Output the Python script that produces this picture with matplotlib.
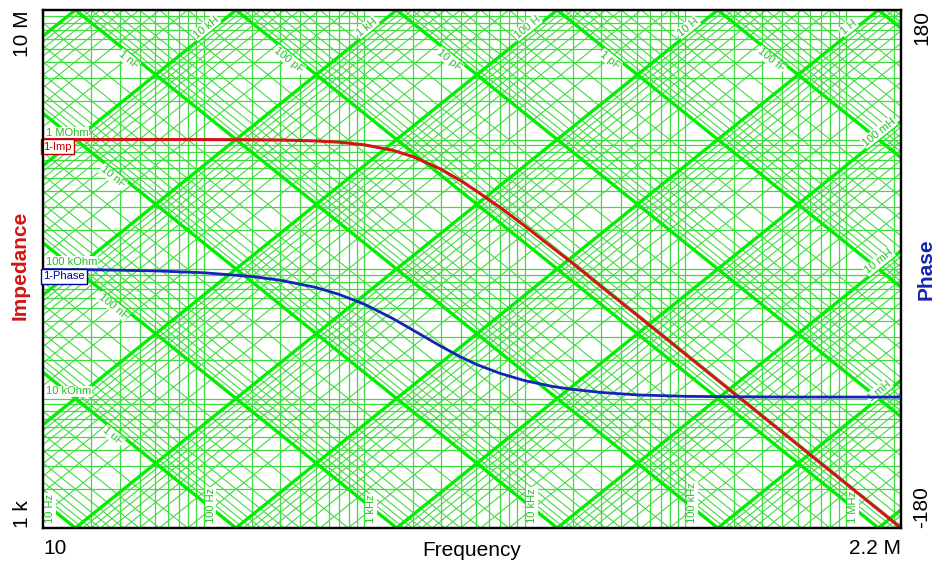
import math
import matplotlib
matplotlib.use('Agg')
import matplotlib.pyplot as plt

plt.rcParams['font.family'] = ['Liberation Sans', 'DejaVu Sans']

freq_hz = [10, 20, 50, 100, 200, 300, 500, 700, 1000, 1500, 2000, 3000, 4000,
           5000, 7000, 10000, 15000, 20000, 30000, 50000, 100000, 200000,
           500000, 1000000, 2200000]
impedance_ohm = [1.0e6, 1.0e6, 1.0e6, 0.999e6, 0.996e6, 0.991e6, 0.975e6,
                 0.953e6, 0.91e6, 0.826e6, 0.74e6, 0.59e6, 0.48e6, 0.40e6,
                 0.30e6, 0.215e6, 0.145e6, 0.11e6, 0.073e6, 44e3, 22e3, 11e3,
                 4.4e3, 2.2e3, 1.0e3]
phase_deg = [-0.3, -0.5, -1.3, -2.6, -5.2, -7.8, -12.8, -17.7, -24.4, -34.3,
             -42.3, -53.7, -61.2, -66.3, -72.5, -77.6, -81.7, -83.7, -85.8,
             -87.5, -88.5, -88.8, -89.0, -89.0, -89.0]

# axis ranges and end labels
freq_range = [10, 2.2e6]
freq_labels = ['10', '2.2 M']
imp_range = [1e3, 1e7]
imp_labels = ['1 k', '10 M']
phase_range = [-180, 180]
phase_labels = ['-180', '180']

# reactance chart grid
grid_decades_f = [1, 10, 100, 1e3, 1e4, 1e5, 1e6]
grid_decades_z = [1e3, 1e4, 1e5, 1e6]
inductor_decades = [1e-5, 1e-4, 1e-3, 1e-2, 1e-1, 1, 10, 100, 1e3, 1e4, 1e5, 1e6]
capacitor_decades = [1e-16, 1e-15, 1e-14, 1e-13, 1e-12, 1e-11, 1e-10, 1e-9,
                     1e-8, 1e-7, 1e-6, 1e-5, 1e-4]
multiples = [1, 2, 3, 4, 5, 6, 7, 8, 9]

# labels written inside the chart
freq_marks = [10, 100, 1e3, 1e4, 1e5, 1e6]
freq_mark_text = ['10 Hz', '100 Hz', '1 kHz', '10 kHz', '100 kHz', '1 MHz']
ohm_marks = [1e6, 1e5, 1e4]
ohm_mark_text = ['1 MOhm', '100 kOhm', '10 kOhm']
l_top = [1e4, 1e3, 100, 10, 1]
l_top_text = ['10 kH', '1 kH', '100 H', '10 H', '1 H']
l_right = [0.1, 0.01, 1e-3]
l_right_text = ['100 mH', '10 mH', '1 mH']
c_top = [1e-9, 1e-10, 1e-11, 1e-12, 1e-13]
c_top_text = ['1 nF', '100 pF', '10 pF', '1 pF', '100 fF']
c_left = [1e-8, 1e-7, 1e-6]
c_left_text = ['10 nF', '100 nF', '1 uF']

thin_green = '#3fdc3f'
thick_green = '#00ee00'
red = '#d41414'
blue = '#1424b4'

W, H = 938, 563
left, right, top, bottom = 43, 901, 10, 528

fig = plt.figure(figsize=(W / 100, H / 100), dpi=100)
ax = fig.add_axes([left / W, (H - bottom) / H, (right - left) / W, (bottom - top) / H])
ax.set_xscale('log')
ax.set_yscale('log')
ax.set_xlim(freq_range)
ax.set_ylim(imp_range)

# pixels per decade, used to place the grid labels
ppd_x = (right - left) / math.log10(freq_range[1] / freq_range[0])
ppd_y = (bottom - top) / math.log10(imp_range[1] / imp_range[0])
angle = math.degrees(math.atan(ppd_y / ppd_x))


def shift(f, px):
    return f * 10 ** (px / ppd_x)


# vertical and horizontal grid
for d in grid_decades_f:
    for m in multiples:
        f = d * m
        if freq_range[0] < f < freq_range[1]:
            ax.axvline(f, color=thin_green, lw=0.9, zorder=1)
for d in grid_decades_z:
    for m in multiples:
        z = d * m
        if imp_range[0] < z < imp_range[1]:
            ax.axhline(z, color=thin_green, lw=0.9, zorder=1)

# inductive and capacitive reactance lines
fx = [freq_range[0], freq_range[1]]
for d in inductor_decades:
    for m in multiples:
        L = d * m
        zl = [2 * math.pi * f * L for f in fx]
        if m == 1:
            ax.plot(fx, zl, color=thick_green, lw=2.4, zorder=2)
        else:
            ax.plot(fx, zl, color=thin_green, lw=0.8, zorder=1)
for d in capacitor_decades:
    for m in multiples:
        C = d * m
        zc = [1 / (2 * math.pi * f * C) for f in fx]
        if m == 1:
            ax.plot(fx, zc, color=thick_green, lw=2.4, zorder=2)
        else:
            ax.plot(fx, zc, color=thin_green, lw=0.8, zorder=1)

box = dict(facecolor='white', edgecolor='none', pad=0.6)
small = dict(fontsize=8, color='#22c022', zorder=3, bbox=box)

for f, t in zip(freq_marks, freq_mark_text):
    ax.annotate(t, (f, imp_range[0]), xytext=(2, 5), textcoords='offset pixels',
                rotation=90, ha='left', va='bottom', **small)
for z, t in zip(ohm_marks, ohm_mark_text):
    ax.annotate(t, (freq_range[0], z), xytext=(3, 2), textcoords='offset pixels',
                ha='left', va='bottom', **small)

for L, t in zip(l_top, l_top_text):
    f = shift(imp_range[1] / (2 * math.pi * L), -30)
    ax.annotate(t, (f, 2 * math.pi * f * L), xytext=(0, 7), textcoords='offset pixels',
                rotation=angle, rotation_mode='anchor', ha='center', va='center', **small)
for L, t in zip(l_right, l_right_text):
    f = shift(freq_range[1], -22)
    ax.annotate(t, (f, 2 * math.pi * f * L), xytext=(0, 7), textcoords='offset pixels',
                rotation=angle, rotation_mode='anchor', ha='center', va='center', **small)
for C, t in zip(c_top, c_top_text):
    f = shift(1 / (2 * math.pi * C * imp_range[1]), 53)
    ax.annotate(t, (f, 1 / (2 * math.pi * f * C)), xytext=(0, -7), textcoords='offset pixels',
                rotation=-angle, rotation_mode='anchor', ha='center', va='center', **small)
for C, t in zip(c_left, c_left_text):
    f = shift(freq_range[0], 70)
    ax.annotate(t, (f, 1 / (2 * math.pi * f * C)), xytext=(0, -7), textcoords='offset pixels',
                rotation=-angle, rotation_mode='anchor', ha='center', va='center', **small)

# impedance curve
ax.plot(freq_hz, impedance_ohm, color=red, lw=2.2, zorder=5)
ax.text(freq_range[0], impedance_ohm[0] * 0.965, '1-Imp', fontsize=8, color='#c00000',
        ha='left', va='top', zorder=6,
        bbox=dict(boxstyle='square,pad=0.2', facecolor='white', edgecolor='#c00000', lw=1))

ax.set_xticks(freq_range)
ax.set_xticklabels(freq_labels, fontsize=15)
ax.get_xticklabels()[0].set_ha('left')
ax.get_xticklabels()[1].set_ha('right')
ax.set_yticks(imp_range)
ax.set_yticklabels(imp_labels, fontsize=15, rotation=90)
ax.get_yticklabels()[0].set_va('bottom')
ax.get_yticklabels()[1].set_va('top')
ax.minorticks_off()
ax.tick_params(length=0)
ax.tick_params(axis='x', pad=8)
ax.tick_params(axis='y', pad=8)

# phase curve
ax2 = ax.twinx()
ax2.set_ylim(phase_range)
ax2.plot(freq_hz, phase_deg, color=blue, lw=2.0, zorder=5)
ax2.text(freq_range[0], phase_deg[0] - 1.4, '1-Phase', fontsize=8, color='#0000a0',
         ha='left', va='top', zorder=6,
         bbox=dict(boxstyle='square,pad=0.2', facecolor='white', edgecolor='#0000a0', lw=1))
ax2.set_yticks(phase_range)
ax2.set_yticklabels(phase_labels, fontsize=15, rotation=90)
ax2.get_yticklabels()[0].set_va('bottom')
ax2.get_yticklabels()[1].set_va('top')
ax2.tick_params(length=0, pad=8)

for a in (ax, ax2):
    for s in a.spines.values():
        s.set_linewidth(1.6)
        s.set_color('black')

fig.text(20 / W, 1 - 265 / H, 'Impedance', rotation=90, color=red, fontsize=15,
         fontweight='bold', ha='center', va='center')
fig.text(926 / W, 1 - 269 / H, 'Phase', rotation=90, color=blue, fontsize=15,
         fontweight='bold', ha='center', va='center')
fig.text(472 / W, 1 - 550 / H, 'Frequency', fontsize=15, ha='center', va='center')

fig.savefig('out.png', dpi=100)
